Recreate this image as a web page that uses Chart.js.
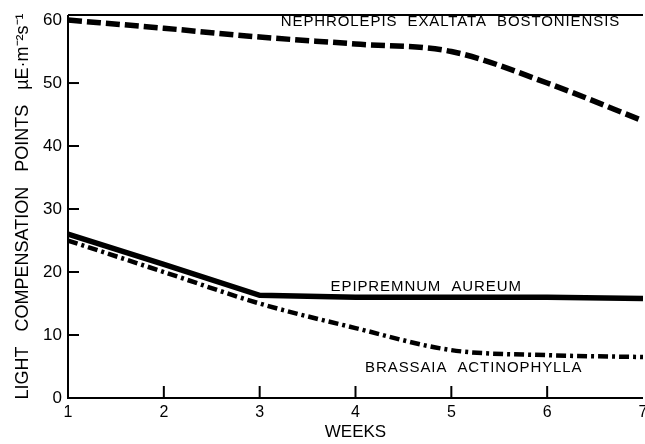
<!DOCTYPE html>
<html>
<head>
<meta charset="utf-8">
<script src="https://cdn.jsdelivr.net/npm/chart.js@4/dist/chart.umd.min.js"></script>
<style>
html,body{margin:0;padding:0;background:#fff;}
#wrap{width:645px;height:444px;}
</style>
</head>
<body>
<div id="wrap"><canvas id="c" width="645" height="444"></canvas></div>
<script>
const weeks = [1, 2, 3, 4, 5, 6, 7];
const nephrolepis = [60, 58.7, 57.3, 56.2, 55, 50, 44];
const epipremnum = [26, 21.2, 16.3, 16, 16, 16, 15.8];
const brassaia = [25, 20, 15, 11.1, 7.6, 6.8, 6.5];
const yTicks = [0, 10, 20, 30, 40, 50, 60];
const seriesLabels = ['NEPHROLEPIS  EXALTATA  BOSTONIENSIS', 'EPIPREMNUM  AUREUM', 'BRASSAIA  ACTINOPHYLLA'];
const labelAnchors = [[3.22, 59.7], [3.74, 17.6], [4.1, 4.8]];

const FONT = '"Liberation Sans", Arial, sans-serif';

const decor = {
  id: 'decor',
  afterDraw(chart) {
    const ctx = chart.ctx;
    const xs = chart.scales.x, ys = chart.scales.y;
    const area = chart.chartArea;
    ctx.save();
    ctx.strokeStyle = '#000';
    ctx.lineWidth = 2;
    ctx.beginPath();
    ctx.moveTo(area.left, area.top);
    ctx.lineTo(area.right, area.top);
    ctx.moveTo(area.left, area.top);
    ctx.lineTo(area.left, area.bottom);
    ctx.lineTo(area.right, area.bottom);
    ctx.stroke();
    yTicks.forEach(v => {
      if (v === 0 || v === 60) return;
      const y = ys.getPixelForValue(v);
      ctx.beginPath();
      ctx.moveTo(area.left, y);
      ctx.lineTo(area.left + 11, y);
      ctx.stroke();
    });
    weeks.forEach(w => {
      if (w === 1 || w === 7) return;
      const x = xs.getPixelForValue(w);
      ctx.beginPath();
      ctx.moveTo(x, area.bottom);
      ctx.lineTo(x, area.bottom - 12);
      ctx.stroke();
    });
    ctx.fillStyle = '#000';
    ctx.font = '15px ' + FONT;
    ctx.textBaseline = 'middle';
    ctx.textAlign = 'left';
    try { ctx.letterSpacing = '0.9px'; } catch (e) {}
    seriesLabels.forEach((t, i) => {
      const [wx, wy] = labelAnchors[i];
      ctx.fillText(t, xs.getPixelForValue(wx), ys.getPixelForValue(wy));
    });
    ctx.restore();
  }
};

new Chart(document.getElementById('c'), {
  type: 'line',
  data: {
    datasets: [
      {
        label: seriesLabels[0],
        data: weeks.map((w, i) => ({x: w, y: nephrolepis[i]})),
        borderColor: '#000',
        borderWidth: 5.5,
        borderDash: [14, 5],
        cubicInterpolationMode: 'monotone',
        pointRadius: 0,
        fill: false
      },
      {
        label: seriesLabels[1],
        data: weeks.map((w, i) => ({x: w, y: epipremnum[i]})),
        borderColor: '#000',
        borderWidth: 5.5,
        tension: 0,
        pointRadius: 0,
        fill: false
      },
      {
        label: seriesLabels[2],
        data: weeks.map((w, i) => ({x: w, y: brassaia[i]})),
        borderColor: '#000',
        borderWidth: 4.5,
        borderDash: [10, 4, 3, 4],
        cubicInterpolationMode: 'monotone',
        pointRadius: 0,
        fill: false
      }
    ]
  },
  options: {
    responsive: false,
    animation: false,
    layout: {padding: {top: 15, right: 2, bottom: 0, left: 0}},
    plugins: {legend: {display: false}, tooltip: {enabled: false}},
    scales: {
      x: {
        type: 'linear',
        min: 1, max: 7,
        border: {display: false},
        grid: {display: false, drawTicks: false},
        ticks: {stepSize: 1, padding: 5, color: '#000', font: {family: FONT, size: 16}},
        afterBuildTicks: s => { s.ticks = weeks.map(v => ({value: v})); },
        afterFit: s => { s.height = 46; s.paddingLeft = 0; s.paddingRight = 0; },
        title: {display: true, text: 'WEEKS', color: '#000', font: {family: FONT, size: 17}, padding: {top: 0, bottom: 1}}
      },
      y: {
        type: 'linear',
        min: 0, max: 60.8,
        border: {display: false},
        grid: {display: false, drawTicks: false},
        ticks: {stepSize: 10, includeBounds: false, padding: 6, color: '#000', font: {family: FONT, size: 17}},
        afterBuildTicks: s => { s.ticks = yTicks.map(v => ({value: v})); },
        afterFit: s => { s.width = 68; s.paddingTop = 0; s.paddingBottom = 0; },
        title: {display: true, text: 'LIGHT   COMPENSATION   POINTS   µE·m⁻²s⁻¹', color: '#000', font: {family: FONT, size: 18}, padding: {top: 12, bottom: 0}}
      }
    }
  },
  plugins: [decor]
});
</script>
</body>
</html>
